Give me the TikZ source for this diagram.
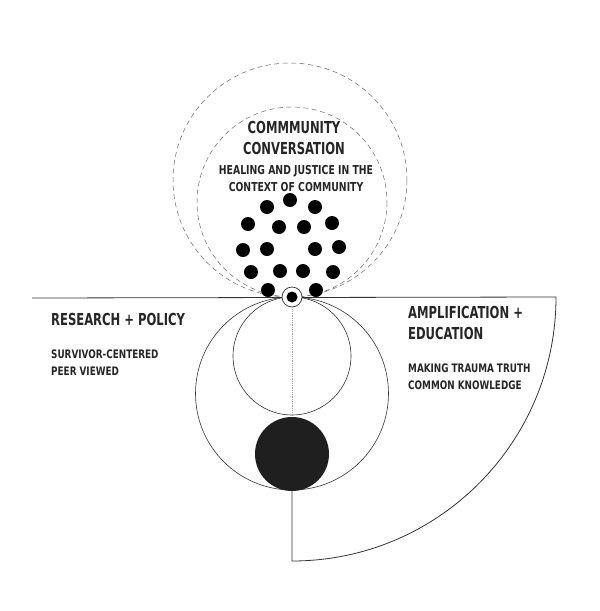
\documentclass[tikz,border=0pt]{standalone}
\usepackage{fontspec}
\newfontfamily\capsfont[FakeStretch=0.78]{DejaVu Sans Condensed Bold}
\newfontfamily\notefont[FakeStretch=0.84]{DejaVu Sans Condensed Bold}

\begin{document}
\begin{tikzpicture}[x=1pt,y=-1pt,
    head/.style={font=\capsfont\fontsize{16.5}{21}\selectfont,text=black!85,inner sep=0pt},
    sub/.style={font=\notefont\fontsize{11.7}{16.5}\selectfont,text=black!85,inner sep=0pt},
    thin line/.style={draw=black!80,line width=.6pt},
    halo/.style={draw=black!60,line width=.5pt,dash pattern=on 5pt off 3.5pt}]

\useasboundingbox (0,0) rectangle (600,611);

% rings that hang below the line
\draw[thin line] (292,393.5) circle[radius=96.5];
\draw[thin line] (292,356) circle[radius=59];
\node[circle,fill=black!88,minimum size=74pt,inner sep=0pt] (core) at (292,454) {};

% rings that rise above the line
\draw[halo] (290,180) circle[radius=117];
\draw[halo] (292,202) circle[radius=95];

% the frame: line and quarter arc
\draw[thin line,line width=.8pt] (32,298) -- (556,297)
    arc[start angle=0,end angle=90,radius=264] -- (core.south);

% the hub on the line
\node[circle,draw=black!80,fill=white,line width=.7pt,minimum size=20pt,inner sep=0pt] (hub) at (292,297) {};
\node[circle,fill=black,minimum size=11pt,inner sep=0pt] (hubdot) at (hub) {};
\draw[black!35,densely dotted,line width=.8pt] (hub.south) -- (core.north);

% the gathering of dots
\foreach \x/\y [count=\i] in {290/200, 267/207, 315/207,
    248/224, 279/227, 304/227, 332/223,
    243/250, 267/249, 315/249, 339/247,
    251/272, 280/271, 303/271, 333/272,
    268/290, 316/290}{% one dot per person
    \node[circle,fill=black,minimum size=14pt,inner sep=0pt] (dot-\i) at (\x,\y) {};}

% texts
\node[head,align=center,anchor=north] (community) at (294,121) {COMMMUNITY\\CONVERSATION};
\node[sub,align=center,anchor=north,font=\notefont\fontsize{12.3}{17}\selectfont] (communitysub) at (296,165)
    {HEALING AND JUSTICE IN THE\\CONTEXT OF COMMUNITY};

\node[head,align=left,anchor=north west] (research) at (51,313) {RESEARCH + POLICY};
\node[sub,align=left,anchor=north west] (researchsub) at (51,350) {SURVIVOR-CENTERED\\PEER VIEWED};

\node[head,align=left,anchor=north west] (amplify) at (408,306) {AMPLIFICATION +\\EDUCATION};
\node[sub,align=left,anchor=north west] (amplifysub) at (408,364) {MAKING TRAUMA TRUTH\\COMMON KNOWLEDGE};

\end{tikzpicture}
\end{document}
